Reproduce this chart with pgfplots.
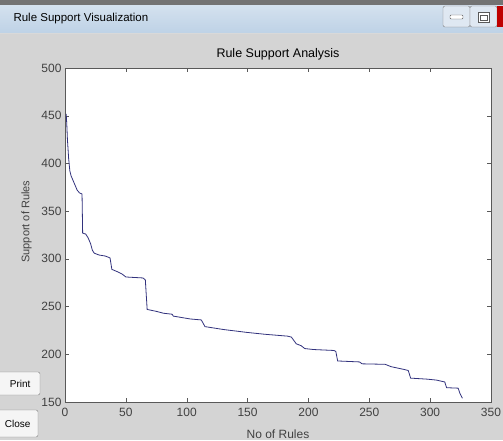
\documentclass[border=0pt]{standalone}
\usepackage{pgfplots}
\pgfplotsset{compat=1.18}
\usepackage{fontspec}
\setmainfont{Liberation Sans}
\definecolor{winbg}{RGB}{212,212,212}
\definecolor{titlebar}{RGB}{190,210,230}
\definecolor{linecol}{RGB}{50,50,125}
\definecolor{labcol}{RGB}{65,65,65}
\begin{document}
\begin{tikzpicture}
\path[use as bounding box] (0pt,0pt) rectangle (503pt,440pt);
\fill[winbg] (0pt,0pt) rectangle (503pt,440pt);
\shade[top color=titlebar!60!white, bottom color=titlebar] (0pt,407pt) rectangle (503pt,440pt);
\fill[black!55] (0pt,435pt) rectangle (503pt,440pt);
\draw[white!85!black] (0pt,406.5pt) -- (503pt,406.5pt);
\node[anchor=west,font=\fontsize{11.5}{13}\selectfont] at (10pt,421pt) {Rule Support Visualization};
% window buttons
\draw[rounded corners=2pt, fill=titlebar!50!white, draw=gray] (443pt,413pt) rectangle (470pt,434pt);
\draw[gray!70!black, fill=white, rounded corners=1pt] (450pt,421pt) rectangle (463pt,425pt);
\draw[rounded corners=2pt, fill=titlebar!50!white, draw=gray] (470pt,413pt) rectangle (497pt,434pt);
\draw[gray!70!black, fill=white] (478pt,418pt) rectangle (489pt,428pt);
\draw[gray!70!black] (480pt,420pt) rectangle (487pt,425pt);
\fill[red!75!black] (497pt,413pt) rectangle (503pt,434pt);
% side buttons
\draw[rounded corners=2pt, fill=gray!8, draw=gray] (-6pt,45pt) rectangle (40pt,68pt);
\node[font=\fontsize{10}{12}\selectfont, anchor=east] at (34pt,56.5pt) {Print};
\draw[rounded corners=2pt, fill=gray!8, draw=gray] (-6pt,3pt) rectangle (38pt,30pt);
\node[font=\fontsize{10}{12}\selectfont, anchor=east] at (34pt,16.5pt) {Close};
\begin{axis}[
  at={(65pt,38pt)}, anchor=south west,
  scale only axis, width=426pt, height=334pt,
  xmin=0, xmax=350, ymin=150, ymax=500,
  xtick={0,50,...,350}, ytick={150,200,...,500},
  tick align=inside, tick pos=both,
  major tick length=4pt,
  axis background/.style={fill=white},
  axis line style={black!65},
  tick style={black!65},
  ticklabel style={font=\fontsize{12}{13}\selectfont, text=labcol},
  xticklabel style={yshift=-3pt},
  /pgf/number format/assume math mode=true,
  title={Rule Support Analysis},
  title style={font=\fontsize{12.5}{14}\selectfont, yshift=-2pt},
  xlabel={No of Rules}, ylabel={Support of Rules},
  label style={text=labcol},
  xlabel style={font=\fontsize{12}{13}\selectfont, yshift=-6pt},
  ylabel style={font=\fontsize{11}{13}\selectfont, at={(ticklabel cs:0.54)}, yshift=3pt},
]
\addplot[color=linecol, line width=0.8pt, mark=none] coordinates {
(1,452) (1.5,440) (2,425) (3,405) (4,392) (5,387) (7,381) (10,372) (12,369) (14,368)
(14.5,327) (17,326) (19,322) (21,316) (22.5,309) (24,306) (28,304) (33,303) (37,301)
(38.5,289) (44,286) (47,284) (50,281) (64,280) (66,278) (67.5,247) (75,245) (81,243)
(88,242) (89,240) (103,237) (112,236) (115,229) (130,226) (149,223) (164,221) (183,219)
(186,218) (190,211) (194,209) (197,206) (204,205) (221,204) (222.5,203) (224,193)
(242,192) (244,190) (263,189.5) (268,187) (279,184) (282,183) (284,175) (297,174)
(305,173) (312,171) (313.5,165) (323,164.5) (324.5,159) (326.5,154)
};
\end{axis}
\end{tikzpicture}
\end{document}
